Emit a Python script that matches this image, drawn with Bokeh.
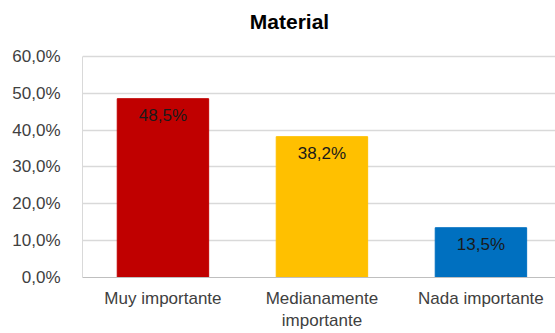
from bokeh.plotting import figure
from bokeh.models import Range1d, FixedTicker, Label
from bokeh.core.properties import value
from bokeh.embed import file_html
from bokeh.resources import INLINE

categories = ["Muy importante", "Medianamente\nimportante", "Nada importante"]
values = [48.5, 38.2, 13.5]
value_labels = ["48,5%", "38,2%", "13,5%"]
colors = ["#C00000", "#FFC000", "#0070C0"]
y_ticks = [0, 10, 20, 30, 40, 50, 60]
y_tick_labels = ["0,0%", "10,0%", "20,0%", "30,0%", "40,0%", "50,0%", "60,0%"]
title_text = "Material"

FONT = "Liberation Sans"
xs = list(range(len(categories)))
y_max = y_ticks[-1]
# headroom above the top tick so the title can sit inside the canvas
y_view = y_max * 278 / 222

p = figure(width=555, height=333, output_backend="svg", toolbar_location=None,
           x_range=Range1d(-0.506, 2.469), y_range=Range1d(0, y_view),
           min_border_left=82, min_border_right=0, min_border_top=0, min_border_bottom=0)
p.outline_line_color = None
p.background_fill_color = "white"
p.border_fill_color = "white"

p.vbar(x=xs, top=values, width=0.575, fill_color=colors, line_color=colors, line_width=1)

p.text(x=xs, y=values, text=value_labels, text_align="center", text_baseline="middle",
       y_offset=17, text_font=value(FONT), text_font_size="17px", text_color="#1a1a1a")

title = Label(x=0.796, y=y_max * 257 / 222, text=title_text, text_align="center",
              text_baseline="middle", text_font=FONT, text_font_size="21px",
              text_font_style="bold", text_color="#000000")
p.add_layout(title)

# axes
p.xaxis.ticker = FixedTicker(ticks=xs)
p.xaxis.major_label_overrides = {i: c for i, c in enumerate(categories)}
p.xaxis.major_tick_line_color = None
p.xaxis.minor_tick_line_color = None
p.xaxis.axis_line_color = "#BFBFBF"
p.xaxis.major_label_text_font = FONT
p.xaxis.major_label_text_font_size = "17px"
p.xaxis.major_label_text_color = "#404040"
p.xaxis.major_label_standoff = 5

p.yaxis.ticker = FixedTicker(ticks=y_ticks)
p.yaxis.bounds = (0, y_max)
p.yaxis.major_label_overrides = {t: l for t, l in zip(y_ticks, y_tick_labels)}
p.yaxis.major_tick_line_color = None
p.yaxis.minor_tick_line_color = None
p.yaxis.axis_line_color = "#D9D9D9"
p.yaxis.major_label_text_font = FONT
p.yaxis.major_label_text_font_size = "17px"
p.yaxis.major_label_text_color = "#404040"
p.yaxis.major_label_standoff = 16

p.xgrid.grid_line_color = None
p.ygrid.grid_line_color = "#D9D9D9"
p.ygrid.grid_line_width = 1.5

open("out.html", "w").write(file_html(p, INLINE))
